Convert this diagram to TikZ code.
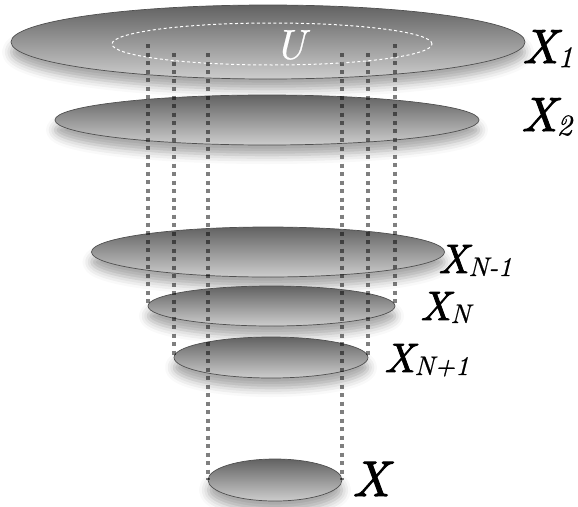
\documentclass[tikz,border=0pt]{standalone}
\usepackage{fontspec}
\usetikzlibrary{shapes.geometric,shadows.blur}
\newfontfamily\labfont{lmroman10-italic.otf}[FakeBold=2.2]
\newfontfamily\subfont{lmroman10-italic.otf}[FakeBold=0.6]
\definecolor{disktop}{RGB}{98,98,98}
\definecolor{diskbot}{RGB}{205,205,205}
\definecolor{diskedge}{RGB}{80,80,80}
\newcommand{\xlab}[4]{{\fontsize{#1}{#1}\labfont X}\kern-0.02em\raisebox{-#4em}{\fontsize{#2}{#2}\subfont #3}}
\begin{document}
\begin{tikzpicture}[x=1pt,y=-1pt,
  disk/.style={ellipse, draw=diskedge, line width=0.7pt, top color=disktop, bottom color=diskbot,
    inner sep=0pt, outer sep=0pt,
    blur shadow={shadow xshift=0pt, shadow yshift=-10pt, shadow blur radius=9pt, shadow opacity=35}},
  vdots/.style={draw=black, draw opacity=0.5, line width=4pt, dash pattern=on 4pt off 4.5pt},
  lab/.style={inner sep=0pt, anchor=base west}]
\useasboundingbox (0,0) rectangle (578,506);
% disks
\node[disk, minimum width=514pt, minimum height=74pt] (x1) at (268,42) {};
\node[ellipse, draw=white, line width=1pt, dash pattern=on 3pt off 2.5pt,
      inner sep=0pt, outer sep=0pt, minimum width=320pt, minimum height=42pt] (u) at (272,44) {};
\node[disk, minimum width=424pt, minimum height=50pt] (x2) at (267,120) {};
\node[disk, minimum width=353pt, minimum height=50pt] (xnm) at (268,252) {};
\node[disk, minimum width=247pt, minimum height=40pt] (xn) at (271.5,306) {};
\node[disk, minimum width=194pt, minimum height=41pt] (xnp) at (271,357.5) {};
\node[disk, minimum width=134pt, minimum height=42pt] (x) at (275,480) {};
% U label
\node[inner sep=0pt, text=white] (ulab) at (290,45) {\fontsize{42}{42}\subfont U};
% dotted connectors
\coordinate (hiA) at (0,44);
\coordinate (hiB) at (0,53);
\draw[vdots] (xn.west |- hiA) -- (xn.west);
\draw[vdots] (xn.east |- hiA) -- (xn.east);
\draw[vdots] (xnp.west |- hiB) -- (xnp.west);
\draw[vdots] (xnp.east |- hiB) -- (xnp.east);
\draw[vdots] (x.west |- hiB) -- (x.west);
\draw[vdots] (x.east |- hiB) -- (x.east);
% labels
\node[lab] (l1) at (522,63) {\xlab{48}{30}{1}{0.42}};
\node[lab] (l2) at (521,131) {\xlab{48}{30}{2}{0.42}};
\node[lab] (lnm) at (438,273) {\xlab{41}{27}{N-1}{0.3}};
\node[lab] (ln) at (420,320) {\xlab{41}{27}{N}{0.3}};
\node[lab] (lnp) at (384,372) {\xlab{41}{27}{N+1}{0.3}};
\node[lab] (lx) at (352,496) {{\fontsize{50}{50}\labfont X}};
\end{tikzpicture}
\end{document}
